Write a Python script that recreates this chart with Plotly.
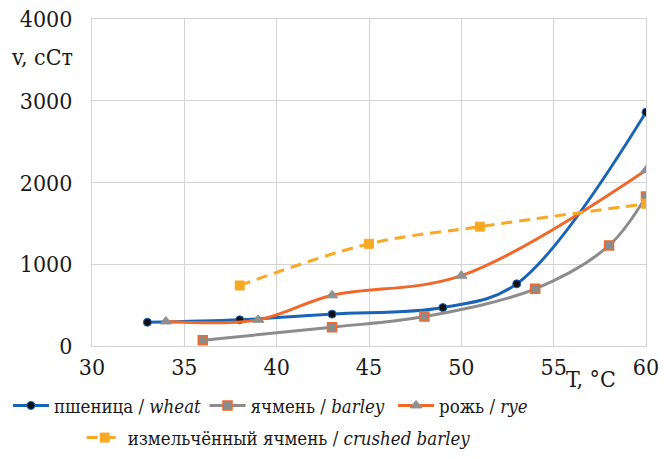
import plotly.graph_objects as go

# Data
wheat_T = [33, 38, 43, 49, 53, 60]
wheat_v = [290, 320, 390, 470, 760, 2860]
barley_T = [36, 43, 48, 54, 58, 60]
barley_v = [70, 230, 360, 700, 1230, 1830]
rye_T = [34, 39, 43, 50, 60]
rye_v = [300, 320, 620, 860, 2150]
crushed_T = [38, 45, 51, 60]
crushed_v = [740, 1250, 1460, 1740]

x_ticks = [30, 35, 40, 45, 50, 55, 60]
y_ticks = [0, 1000, 2000, 3000, 4000]

FONT = "DejaVu Serif Condensed, DejaVu Serif, serif"
FS = 23
LFS = 18.5

fig = go.Figure()
fig.add_trace(go.Scatter(
    x=wheat_T, y=wheat_v, mode="lines+markers", name="пшеница / <i>wheat</i>",
    line=dict(color="#1a64b8", width=3, shape="spline", smoothing=1),
    marker=dict(symbol="circle", size=8, color="#111111", line=dict(color="#1a64b8", width=1)),
    legend="legend", showlegend=True))
fig.add_trace(go.Scatter(
    x=barley_T, y=barley_v, mode="lines+markers", name="ячмень / <i>barley</i>",
    line=dict(color="#8c8c8c", width=3, shape="spline", smoothing=1),
    marker=dict(symbol="square", size=9, color="#8c8c8c", line=dict(color="#ee6a2c", width=1.5)),
    legend="legend2", showlegend=True))
fig.add_trace(go.Scatter(
    x=rye_T, y=rye_v, mode="lines+markers", name="рожь / <i>rye</i>",
    line=dict(color="#f0682a", width=3, shape="spline", smoothing=1),
    marker=dict(symbol="triangle-up", size=10, color="#909090", line=dict(color="#909090", width=1)),
    legend="legend3", showlegend=True))
fig.add_trace(go.Scatter(
    x=crushed_T, y=crushed_v, mode="lines+markers", name="измельчённый ячмень / <i>crushed barley</i>",
    line=dict(color="#f9a825", width=3, dash="11px,7px", shape="spline", smoothing=1),
    marker=dict(symbol="square", size=9, color="#f9a825", line=dict(color="#f9a825", width=1)),
    legend="legend4", showlegend=True))

def leg(x, y):
    return dict(orientation="h", x=x, xanchor="left", xref="container",
                y=y, yanchor="top", yref="container", visible=True,
                font=dict(family=FONT, size=LFS), itemwidth=36,
                bgcolor="rgba(0,0,0,0)")

grid = "#d4d4d4"
fig.update_layout(
    width=664, height=459,
    showlegend=True,
    margin=dict(l=92, r=18, t=19, b=113, autoexpand=False),
    paper_bgcolor="white", plot_bgcolor="white",
    font=dict(family=FONT, size=FS, color="#1a1a1a"),
    xaxis=dict(range=[30, 60], tickvals=x_ticks, showgrid=True, gridcolor=grid, gridwidth=1,
               showline=True, linecolor=grid, mirror=True, zeroline=False, ticks="",
               tickfont=dict(family=FONT, size=FS), automargin=False),
    yaxis=dict(range=[0, 4000], tickvals=y_ticks, showgrid=True, gridcolor=grid, gridwidth=1,
               showline=True, linecolor=grid, mirror=True, zeroline=False, ticks="",
               tickfont=dict(family=FONT, size=FS), ticklabelstandoff=14, automargin=False),
    legend=leg(0.012, 0.157),
    legend2=leg(0.308, 0.157),
    legend3=leg(0.592, 0.157),
    legend4=leg(0.123, 0.087),
    annotations=[
        dict(text="v, cCт", xref="paper", yref="paper", x=-0.03, y=0.885,
             xanchor="right", yanchor="middle", showarrow=False,
             font=dict(family=FONT, size=FS)),
        dict(text="T, °C", xref="paper", yref="paper", x=0.9, y=-0.055,
             xanchor="center", yanchor="top", showarrow=False,
             font=dict(family=FONT, size=FS)),
    ],
)

fig.write_html("out.html")
